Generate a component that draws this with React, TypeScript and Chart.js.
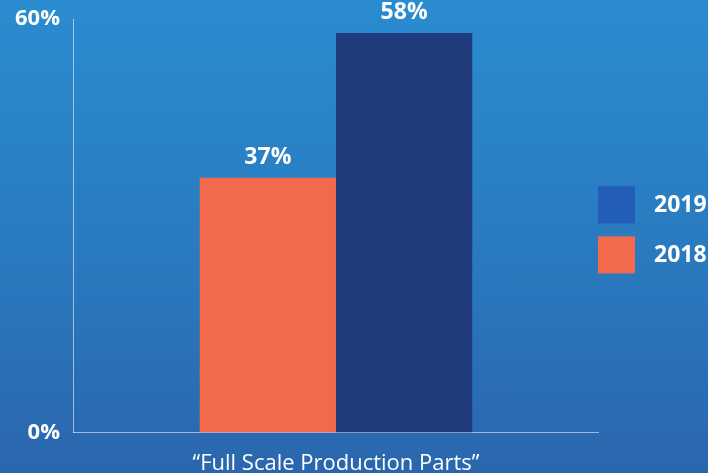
import React, { useEffect, useRef } from "react";
import { Chart, registerables } from "chart.js";

Chart.register(...registerables);

const categories = ["\u201cFull Scale Production Parts\u201d"];
const seriesNames = ["2018", "2019"];
const values2018 = [37];
const values2019 = [58];
const yTicks = [0, 60];

const barColors = ["#f3694b", "#203c7c"];
const legendColors = ["#f3694b", "#225eb8"];
const FONT = "'Open Sans', sans-serif";

const valueLabelPlugin = {
  id: "valueLabels",
  afterDatasetsDraw(chart: any) {
    const { ctx } = chart;
    ctx.save();
    ctx.fillStyle = "#ffffff";
    ctx.font = `700 23px ${FONT}`;
    ctx.textAlign = "center";
    ctx.textBaseline = "bottom";
    chart.data.datasets.forEach((ds: any, i: number) => {
      const meta = chart.getDatasetMeta(i);
      meta.data.forEach((bar: any, j: number) => {
        ctx.fillText(ds.data[j] + "%", bar.x, bar.y - 9);
      });
    });
    ctx.restore();
  },
};

const sideLegendPlugin = {
  id: "sideLegend",
  afterDraw(chart: any) {
    const { ctx, chartArea } = chart;
    const box = 37;
    const gap = 13;
    const items = chart.data.datasets.map((ds: any, i: number) => ({ text: ds.label, color: legendColors[i] })).reverse();
    const total = items.length * box + (items.length - 1) * gap;
    const mid = (chartArea.top + chartArea.bottom) / 2 + 4;
    let y = mid - total / 2;
    ctx.save();
    ctx.font = `700 23px ${FONT}`;
    ctx.textBaseline = "middle";
    ctx.textAlign = "left";
    items.forEach((it: any) => {
      ctx.fillStyle = it.color;
      ctx.fillRect(chartArea.right, y, box, box);
      ctx.fillStyle = "#ffffff";
      ctx.fillText(it.text, chartArea.right + box + 19, y + box / 2 + 1);
      y += box + gap;
    });
    ctx.restore();
  },
};

export default function App() {
  const ref = useRef<HTMLCanvasElement | null>(null);
  useEffect(() => {
    if (!ref.current) return;
    const chart = new Chart(ref.current, {
      type: "bar",
      data: {
        labels: categories,
        datasets: [
          { label: seriesNames[0], data: values2018, backgroundColor: barColors[0] },
          { label: seriesNames[1], data: values2019, backgroundColor: barColors[1] },
        ],
      },
      options: {
        animation: false,
        responsive: true,
        maintainAspectRatio: false,
        layout: { padding: { top: -6, right: 110, bottom: -14, left: 9 } },
        datasets: { bar: { categoryPercentage: 0.52, barPercentage: 1.0 } },
        plugins: {
          tooltip: { enabled: false },
          legend: { display: false },
        },
        scales: {
          x: {
            grid: { display: false },
            border: { display: true, color: "rgba(255,255,255,0.55)", width: 1 },
            ticks: {
              color: "#ffffff",
              font: { family: FONT, size: 22 },
              padding: 10,
            },
          },
          y: {
            min: yTicks[0],
            max: yTicks[1],
            afterBuildTicks(axis: any) {
              axis.ticks = yTicks.map((v) => ({ value: v }));
            },
            grid: { display: false },
            border: { display: true, color: "rgba(255,255,255,0.55)", width: 1 },
            ticks: {
              color: "#ffffff",
              font: { family: FONT, size: 22, weight: "bold" },
              padding: 6,
              callback: (v: any) => v + "%",
            },
          },
        },
      },
      plugins: [valueLabelPlugin, sideLegendPlugin],
    });
    return () => chart.destroy();
  }, []);
  return (
    <div
      style={{
        position: "fixed",
        left: 0,
        top: 0,
        width: 708,
        height: 473,
        background: "linear-gradient(180deg, #2a8ccf 0%, #2a7bc0 50%, #2a66ae 100%)",
      }}
    >
      <canvas ref={ref} />
    </div>
  );
}
